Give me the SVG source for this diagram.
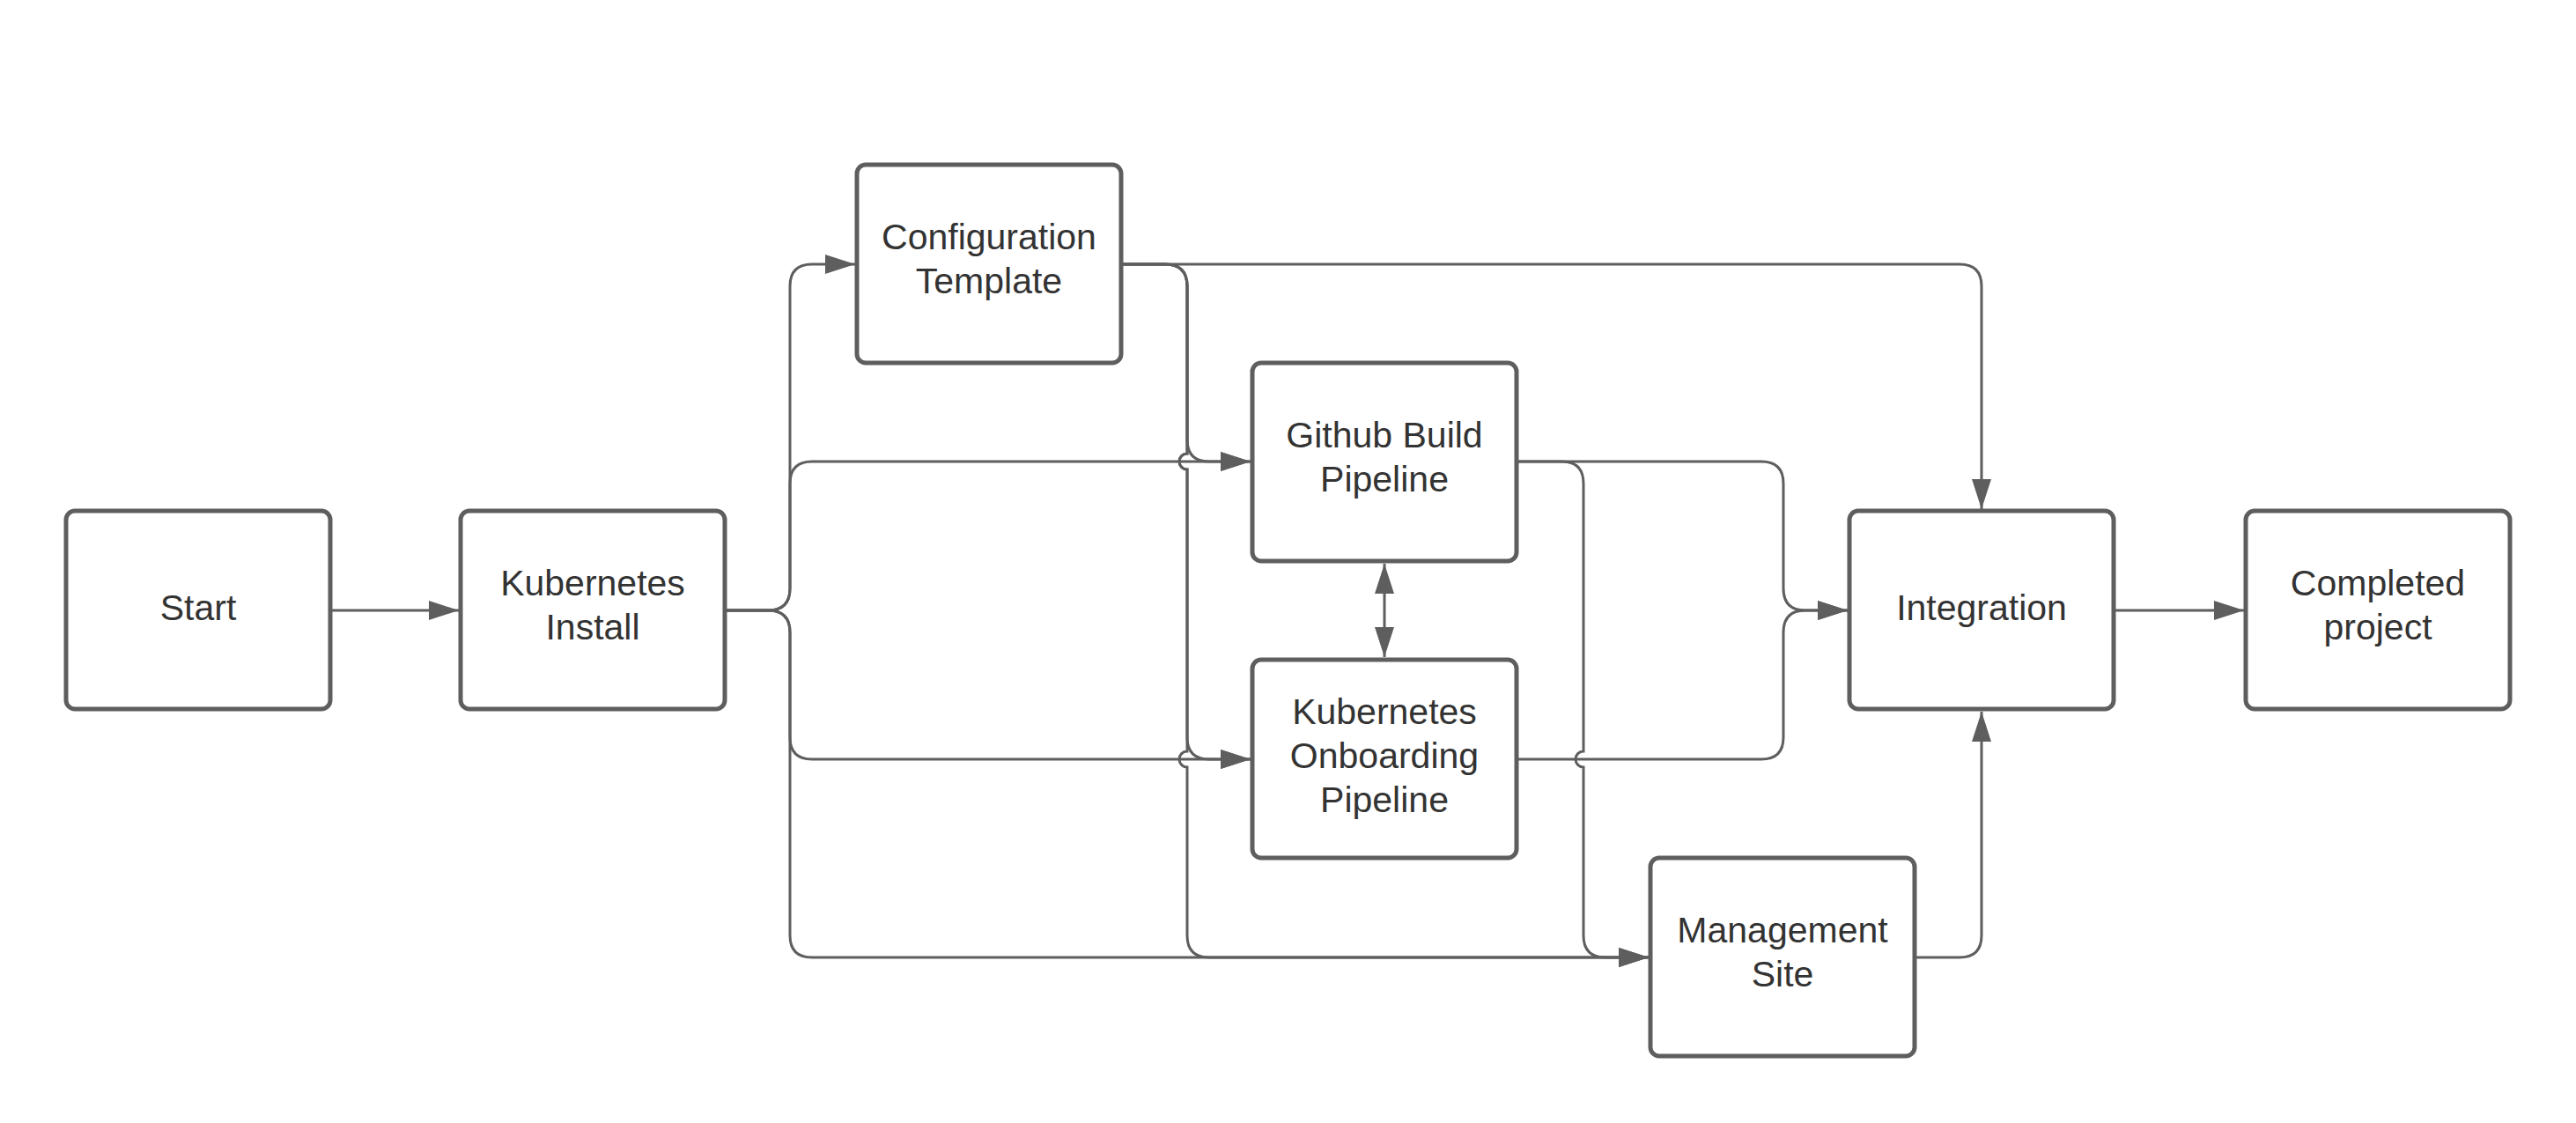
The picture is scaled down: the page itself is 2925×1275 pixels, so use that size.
<svg xmlns="http://www.w3.org/2000/svg" width="2925" height="1275" viewBox="0 0 2925 1275">
<style>
.node rect{fill:#ffffff;stroke:#5e5e5e;stroke-width:5}
.node text{font-family:"Liberation Sans",Arial,sans-serif;font-size:41px;fill:#333333;text-anchor:middle}
.edge{fill:none;stroke:#5e5e5e;stroke-width:3;marker-end:url(#arrow)}
</style>
<defs>
<marker id="arrow" markerUnits="userSpaceOnUse" markerWidth="34" markerHeight="22" refX="34" refY="11" orient="auto">
<path d="M0,0 L34,11 L0,22 Z" fill="#5e5e5e"/>
</marker>
<marker id="arrowStart" markerUnits="userSpaceOnUse" markerWidth="34" markerHeight="22" refX="0" refY="11" orient="auto">
<path d="M34,0 L0,11 L34,22 Z" fill="#5e5e5e"/>
</marker>
</defs>
<rect width="2925" height="1275" fill="#ffffff"/>
<g id="connectors">
<path class="edge" d="M375,693 H521"/>
<path class="edge" d="M823,693 H872 Q897,693 897,668 V325 Q897,300 922,300 H971"/>
<path class="edge" d="M823,693 H872 Q897,693 897,668 V549 Q897,524 922,524 H1420"/>
<path class="edge" d="M823,693 H872 Q897,693 897,718 V837 Q897,862 922,862 H1420"/>
<path class="edge" d="M823,693 H872 Q897,693 897,718 V1062 Q897,1087 922,1087 H1872"/>
<path class="edge" d="M1273,300 H2225 Q2250,300 2250,325 V578"/>
<path class="edge" d="M1273,300 H1323 Q1348,300 1348,325 V499 Q1348,524 1373,524 H1420"/>
<path class="edge" d="M1273,300 H1323 Q1348,300 1348,325 V515 A9,9 0 0 0 1348,533 V837 Q1348,862 1373,862 H1420"/>
<path class="edge" d="M1273,300 H1323 Q1348,300 1348,325 V515 A9,9 0 0 0 1348,533 V853 A9,9 0 0 0 1348,871 V1062 Q1348,1087 1373,1087 H1872"/>
<path class="edge" d="M1722,524 H2000 Q2025,524 2025,549 V668 Q2025,693 2050,693 H2098"/>
<path class="edge" d="M1722,524 H1773 Q1798,524 1798,549 V853 A9,9 0 0 0 1798,871 V1062 Q1798,1087 1823,1087 H1872"/>
<path class="edge" d="M1722,862 H2000 Q2025,862 2025,837 V718 Q2025,693 2050,693 H2098"/>
<path class="edge" d="M2174,1087 H2225 Q2250,1087 2250,1062 V808"/>
<path class="edge" style="marker-start:url(#arrowStart)" d="M1572,640 V746"/>
<path class="edge" d="M2400,693 H2548"/>
</g>
<g id="start" class="node">
<rect x="75" y="580" width="300" height="225" rx="10"/>
<text x="225" y="703.5">Start</text>
</g>
<g id="kubernetes-install" class="node">
<rect x="523" y="580" width="300" height="225" rx="10"/>
<text x="673" y="675.5">Kubernetes</text>
<text x="673" y="725.5">Install</text>
</g>
<g id="configuration-template" class="node">
<rect x="973" y="187" width="300" height="225" rx="10"/>
<text x="1123" y="282.5">Configuration</text>
<text x="1123" y="332.5">Template</text>
</g>
<g id="github-build-pipeline" class="node">
<rect x="1422" y="412" width="300" height="225" rx="10"/>
<text x="1572" y="507.5">Github Build</text>
<text x="1572" y="557.5">Pipeline</text>
</g>
<g id="kubernetes-onboarding-pipeline" class="node">
<rect x="1422" y="749" width="300" height="225" rx="10"/>
<text x="1572" y="821.5">Kubernetes</text>
<text x="1572" y="871.5">Onboarding</text>
<text x="1572" y="921.5">Pipeline</text>
</g>
<g id="management-site" class="node">
<rect x="1874" y="974" width="300" height="225" rx="10"/>
<text x="2024" y="1069.5">Management</text>
<text x="2024" y="1119.5">Site</text>
</g>
<g id="integration" class="node">
<rect x="2100" y="580" width="300" height="225" rx="10"/>
<text x="2250" y="703.5">Integration</text>
</g>
<g id="completed-project" class="node">
<rect x="2550" y="580" width="300" height="225" rx="10"/>
<text x="2700" y="675.5">Completed</text>
<text x="2700" y="725.5">project</text>
</g>
</svg>
